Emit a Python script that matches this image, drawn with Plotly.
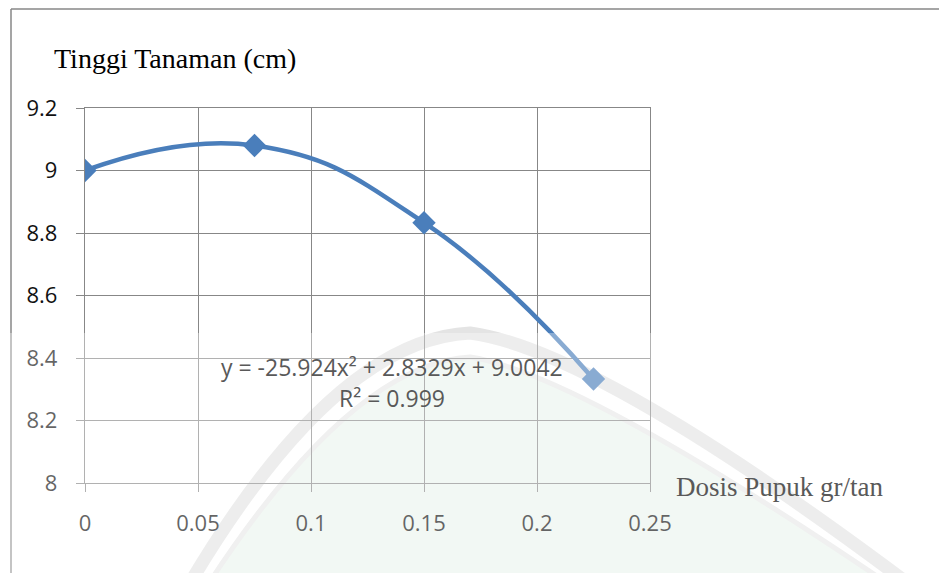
"""
Tinggi tanaman vs dosis pupuk, with quadratic trendline label
"""
import plotly.graph_objects as go

# data
dosis = [0, 0.075, 0.15, 0.225]
tinggi = [9.0, 9.08, 8.833, 8.333]

x_ticks = [0, 0.05, 0.1, 0.15, 0.2, 0.25]
y_ticks = [8, 8.2, 8.4, 8.6, 8.8, 9, 9.2]

persamaan = "y = -25.924x² + 2.8329x + 9.0042"
r_kuadrat = "R² = 0.999"
judul_y = "Tinggi Tanaman (cm)"
judul_x = "Dosis Pupuk gr/tan"

W, H = 947, 573
OFF = 8  # page body margin
PLOT_L, PLOT_R, PLOT_T, PLOT_B = 85, 650, 108, 483  # screen pixels of plot area
L = PLOT_L - OFF
T = PLOT_T - OFF
R = W + OFF - PLOT_R
B = H + OFF - PLOT_B
GRID = "#878787"
BLUE = "#4a7ebb"
FADED_TEXT = "#595959"


def px(x):
    # screen pixel x -> paper x
    return (x - PLOT_L) / (PLOT_R - PLOT_L)


def py(y):
    # screen pixel y -> paper y
    return (PLOT_B - y) / (PLOT_B - PLOT_T)


def arc_path(dy, dx, close=False):
    p = (f"M {px(180 + dx)},{py(600)} Q {px(330 + dx)},{py(340 + dy)} {px(470)},{py(333 + dy)} "
         f"Q {px(600 - dx)},{py(350 + dy)} {px(930 - dx)},{py(600)}")
    return p + " Z" if close else p


fig = go.Figure()

fig.add_trace(go.Scatter(
    x=dosis, y=tinggi,
    mode="lines+markers",
    line=dict(color=BLUE, width=4.5, shape="spline", smoothing=1.3),
    marker=dict(symbol="diamond", size=18, color=BLUE),
    showlegend=False,
    hoverinfo="skip"
))

axis_common = dict(
    showgrid=True, gridcolor=GRID, gridwidth=1.3,
    showline=True, linecolor=GRID, linewidth=1.3, mirror=True,
    ticks="outside", ticklen=8, tickcolor=GRID, tickwidth=1.3,
    zeroline=False,
    tickfont=dict(family="Open Sans", size=22, color="#111111"),
)

fig.update_xaxes(
    range=[0, 0.25], tickvals=x_ticks,
    ticktext=[f"{v:g}" for v in x_ticks],
    ticklabelstandoff=12,
    **axis_common
)
fig.update_yaxes(
    range=[8, 9.2], tickvals=y_ticks,
    ticktext=[f"{v:g}" for v in y_ticks],
    ticklabelstandoff=14,
    **axis_common
)

# trendline label
fig.add_annotation(x=0.136, y=8.371, text=persamaan, showarrow=False,
                   font=dict(family="Open Sans", size=23, color=FADED_TEXT))
fig.add_annotation(x=0.136, y=8.272, text=r_kuadrat, showarrow=False,
                   font=dict(family="Open Sans", size=23, color=FADED_TEXT))

# axis titles
fig.add_annotation(xref="paper", yref="paper", x=px(52), y=py(59),
                   xanchor="left", yanchor="middle", text=judul_y,
                   showarrow=False,
                   font=dict(family="Liberation Serif", size=28, color="#000000"))
fig.add_annotation(xref="paper", yref="paper", x=px(674), y=py(487),
                   xanchor="left", yanchor="middle", text=judul_x,
                   showarrow=False,
                   font=dict(family="Liberation Serif", size=27, color=FADED_TEXT))

# watermark logo (background): outer band, inner tinted area
fig.add_shape(type="path", xref="paper", yref="paper", layer="below",
              path=arc_path(0, 0), line=dict(color="#e4e4e4", width=13))
fig.add_shape(type="path", xref="paper", yref="paper", layer="below",
              path=arc_path(24, 18, close=True), fillcolor="#ebf5ee",
              line=dict(color="#e8e8e8", width=5))

# chart frame
fig.add_shape(type="line", xref="paper", yref="paper",
              x0=px(11), y0=py(9), x1=px(11), y1=py(580),
              line=dict(color=GRID, width=1.5))
fig.add_shape(type="line", xref="paper", yref="paper",
              x0=px(11), y0=py(9), x1=px(950), y1=py(9),
              line=dict(color=GRID, width=1.5))

# faded lower part of the scan
fig.add_shape(type="rect", xref="paper", yref="paper", layer="above",
              x0=px(0), y0=py(333), x1=px(950), y1=py(600),
              fillcolor="rgba(255,255,255,0.35)", line=dict(width=0))

fig.update_layout(
    width=W, height=H,
    margin=dict(l=L, r=R, t=T, b=B),
    paper_bgcolor="white",
    plot_bgcolor="rgba(0,0,0,0)",
    showlegend=False
)

fig.write_html("out.html")
